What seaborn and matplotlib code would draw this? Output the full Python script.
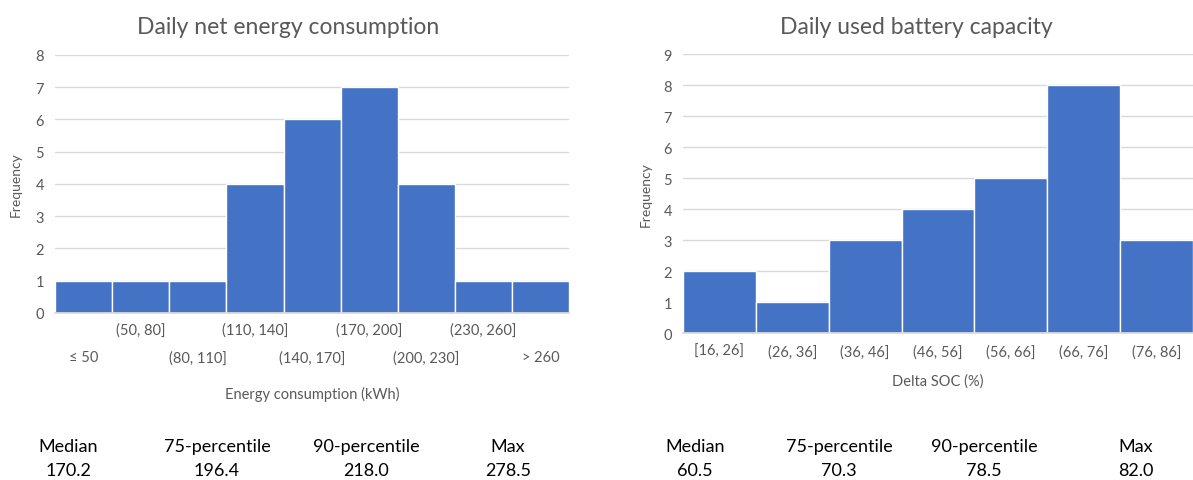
import matplotlib
matplotlib.use("Agg")
import matplotlib.pyplot as plt
import seaborn as sns
import pandas as pd

energy_bins = ["≤ 50", "(50, 80]", "(80, 110]", "(110, 140]", "(140, 170]",
               "(170, 200]", "(200, 230]", "(230, 260]", "> 260"]
energy_freq = [1, 1, 1, 4, 6, 7, 4, 1, 1]

soc_bins = ["[16, 26]", "(26, 36]", "(36, 46]", "(46, 56]", "(56, 66]", "(66, 76]", "(76, 86]"]
soc_freq = [2, 1, 3, 4, 5, 8, 3]

stat_names = ["Median", "75-percentile", "90-percentile", "Max"]
energy_stats = ["170.2", "196.4", "218.0", "278.5"]
soc_stats = ["60.5", "70.3", "78.5", "82.0"]

sns.set_theme(style="white")
plt.rcParams['font.family'] = ['Lato', 'DejaVu Sans']

BAR = "#4472C4"
GRID = "#D9D9D9"
TXT = "#595959"

fig = plt.figure(figsize=(11.93, 4.81), dpi=100)
ax1 = fig.add_axes([0.0461, 0.3472, 0.431, 0.5364])
ax2 = fig.add_axes([0.5725, 0.3056, 0.4275, 0.58])

def style(ax, ymax):
    ax.set_ylim(0, ymax)
    ax.set_yticks(range(0, ymax + 1))
    ax.yaxis.grid(True, color=GRID, linewidth=1)
    ax.set_axisbelow(True)
    for s in ["top", "right", "left"]:
        ax.spines[s].set_visible(False)
    ax.spines["bottom"].set_color(GRID)
    ax.tick_params(axis="y", length=0, labelsize=10.5, colors=TXT, pad=8)
    ax.set_ylabel("Frequency", fontsize=10, color=TXT)

df1 = pd.DataFrame({"bin": energy_bins, "freq": energy_freq})
sns.barplot(data=df1, x="bin", y="freq", color=BAR, saturation=1, width=1,
            edgecolor="white", linewidth=1, ax=ax1)
ax1.set_xlim(-0.5, len(energy_bins) - 0.5)
style(ax1, 8)
ax1.set_xticks(range(0, len(energy_bins), 2))
ax1.set_xticklabels(energy_bins[0::2])
ax1.set_xticks(range(1, len(energy_bins), 2), minor=True)
ax1.set_xticklabels(energy_bins[1::2], minor=True)
ax1.tick_params(axis="x", which="major", length=0, pad=27, labelsize=10.5, colors=TXT)
ax1.tick_params(axis="x", which="minor", length=0, pad=7, labelsize=10.5, colors=TXT)
ax1.set_xlabel("Energy consumption (kWh)", fontsize=10.5, color=TXT, labelpad=15)
ax1.set_title("Daily net energy consumption", fontsize=16.5, color=TXT,
              x=0.453, y=1.112, pad=0, va="center")
ax1.yaxis.set_label_coords(-0.065, 0.5)

df2 = pd.DataFrame({"bin": soc_bins, "freq": soc_freq})
sns.barplot(data=df2, x="bin", y="freq", color=BAR, saturation=1, width=1,
            edgecolor="white", linewidth=1, ax=ax2)
ax2.set_xlim(-0.5, len(soc_bins) - 0.5)
style(ax2, 9)
ax2.tick_params(axis="x", length=0, pad=8, labelsize=10.5, colors=TXT)
ax2.set_xlabel("Delta SOC (%)", fontsize=10.5, color=TXT, labelpad=11)
ax2.set_title("Daily used battery capacity", fontsize=16.5, color=TXT,
              x=0.457, y=1.100, pad=0, va="center")
ax2.yaxis.set_label_coords(-0.061, 0.5)

left_x = [68, 217, 366, 508]
right_x = [695, 839, 984, 1136]
for xs, vals in [(left_x, energy_stats), (right_x, soc_stats)]:
    for x, name, v in zip(xs, stat_names, vals):
        fig.text(x / 1193, 1 - 447 / 481, name, ha="center", va="center", fontsize=13, color="black")
        fig.text(x / 1193, 1 - 471 / 481, v, ha="center", va="center", fontsize=13, color="black")

fig.savefig("out.png", dpi=100)
